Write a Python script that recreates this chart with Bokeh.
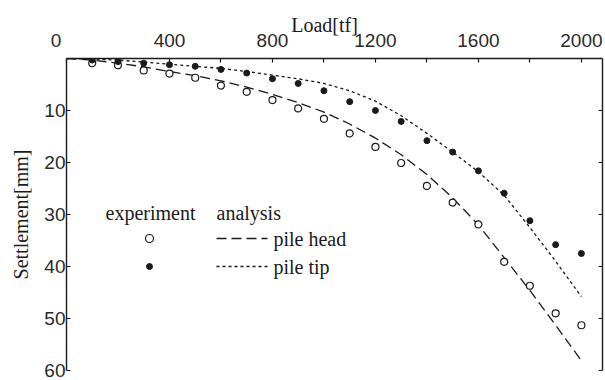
from bokeh.plotting import figure
from bokeh.models import Range1d, LinearAxis, FixedTicker, Label, Arrow, BoxAnnotation
from bokeh.embed import file_html
from bokeh.resources import INLINE

# ---------------- data ----------------
load_exp = [100, 200, 300, 400, 500, 600, 700, 800, 900, 1000,
            1100, 1200, 1300, 1400, 1500, 1600, 1700, 1800, 1900, 2000]
head_exp = [0.9, 1.3, 2.3, 2.9, 3.7, 5.2, 6.4, 8.0, 9.6, 11.6,
            14.4, 17.0, 20.1, 24.5, 27.7, 31.9, 39.1, 43.7, 49.0, 51.3]
tip_exp = [0.3, 0.6, 0.9, 1.2, 1.5, 2.1, 2.8, 3.9, 4.8, 6.2,
           8.3, 10.0, 12.1, 15.8, 18.0, 21.6, 25.9, 31.2, 35.8, 37.5]

load_ana = [0, 100, 200, 300, 400, 500, 600, 700, 800, 900, 1000,
            1100, 1200, 1300, 1400, 1500, 1600, 1700, 1800, 1900, 2000]
head_ana = [0.0, 0.3, 0.9, 1.6, 2.5, 3.3, 4.3, 5.5, 6.9, 8.5, 10.3,
            12.6, 15.3, 18.5, 22.3, 26.8, 32.0, 38.3, 44.6, 51.3, 58.1]
tip_ana = [0.0, 0.1, 0.3, 0.7, 1.1, 1.5, 1.9, 2.5, 3.2, 3.9, 4.8,
           6.2, 8.2, 11.0, 14.4, 18.0, 21.8, 26.3, 32.5, 39.0, 45.8]

x_ticks = [0, 400, 800, 1200, 1600, 2000]
x_minor = [200, 600, 1000, 1400, 1800]
y_ticks = [10, 20, 30, 40, 50, 60]

SERIF = "Liberation Serif"
SANS = "Liberation Sans"
INK = "#1a1a1a"

p = figure(width=605, height=380, output_backend="svg", toolbar_location=None,
           x_range=Range1d(0, 2082), y_range=Range1d(60, 0),
           x_axis_location="above", y_axis_location="left",
           min_border_left=66, min_border_right=3, min_border_top=58, min_border_bottom=10)
p.outline_line_color = None
p.xgrid.visible = False
p.ygrid.visible = False
p.background_fill_color = "white"
p.border_fill_color = "white"

def style_axis(ax):
    ax.axis_line_color = INK
    ax.axis_line_width = 1.4
    ax.major_tick_line_color = INK
    ax.minor_tick_line_color = INK
    ax.major_tick_line_width = 1.2
    ax.minor_tick_line_width = 1.2
    ax.major_tick_in = 4
    ax.major_tick_out = 0
    ax.minor_tick_in = 4
    ax.minor_tick_out = 0
    ax.major_label_text_font = SANS
    ax.major_label_text_font_size = "19px"
    ax.major_label_text_color = "#2a2a2a"
    ax.axis_label_text_font = SERIF
    ax.axis_label_text_font_size = "20px"
    ax.axis_label_text_font_style = "normal"
    ax.axis_label_text_color = INK

xa = p.xaxis[0]
xa.ticker = FixedTicker(ticks=x_ticks, minor_ticks=x_minor)
xa.axis_label = "Load[tf]\u00a0\u00a0\u00a0\u00a0"
style_axis(xa)
xa.major_label_standoff = 8
xa.axis_label_standoff = -9
# the corner "0" sits left of the axis corner in the original
xa.major_label_overrides = {0: "0\u00a0\u00a0\u00a0\u00a0"}

ya = p.yaxis[0]
ya.ticker = FixedTicker(ticks=y_ticks, minor_ticks=[])
ya.axis_label = "Settlement[mm]"
style_axis(ya)
ya.major_label_standoff = 1
ya.axis_label_standoff = 9

ra = LinearAxis(ticker=FixedTicker(ticks=y_ticks, minor_ticks=[]),
                major_label_overrides={t: "" for t in y_ticks})
style_axis(ra)
ra.major_label_text_font_size = "1px"
p.add_layout(ra, "right")

# analysis lines
p.line(load_ana, head_ana, line_color=INK, line_width=1.3, line_dash="10 5")
p.line(load_ana, tip_ana, line_color=INK, line_width=1.3, line_dash="3 3")

# experiment points
p.scatter(load_exp, head_exp, marker="circle", size=7, fill_color="white",
          line_color=INK, line_width=1.2)
p.scatter(load_exp, tip_exp, marker="circle", size=6, fill_color=INK,
          line_color=INK, line_width=1.0)

# ---------------- legend (frame-relative screen units) ----------------
def lab(x, y, t):
    p.add_layout(Label(x=x, y=y, x_units="screen", y_units="screen", text=t,
                       text_font=SERIF, text_font_size="20px", text_color=INK,
                       text_baseline="middle", text_align="left"))

lab(39, 158, "experiment")
lab(150, 158, "analysis")
lab(207, 132, "pile head")
lab(207, 104, "pile tip")

p.add_layout(Arrow(x_start=150, y_start=132, x_end=201, y_end=132,
                   start_units="screen", end_units="screen", end=None,
                   line_color=INK, line_width=1.3, line_dash="10 5"))
p.add_layout(Arrow(x_start=150, y_start=104, x_end=201, y_end=104,
                   start_units="screen", end_units="screen", end=None,
                   line_color=INK, line_width=1.3, line_dash="3 3"))

p.add_layout(BoxAnnotation(left=79, right=87, bottom=128, top=136,
                           left_units="screen", right_units="screen",
                           top_units="screen", bottom_units="screen",
                           border_radius=4, fill_color="white", fill_alpha=1,
                           line_color=INK, line_width=1.2, line_alpha=1))
p.add_layout(BoxAnnotation(left=80, right=86, bottom=101, top=107,
                           left_units="screen", right_units="screen",
                           top_units="screen", bottom_units="screen",
                           border_radius=3, fill_color=INK, fill_alpha=1,
                           line_color=INK, line_width=1.0, line_alpha=1))

open("out.html", "w").write(file_html(p, INLINE))
